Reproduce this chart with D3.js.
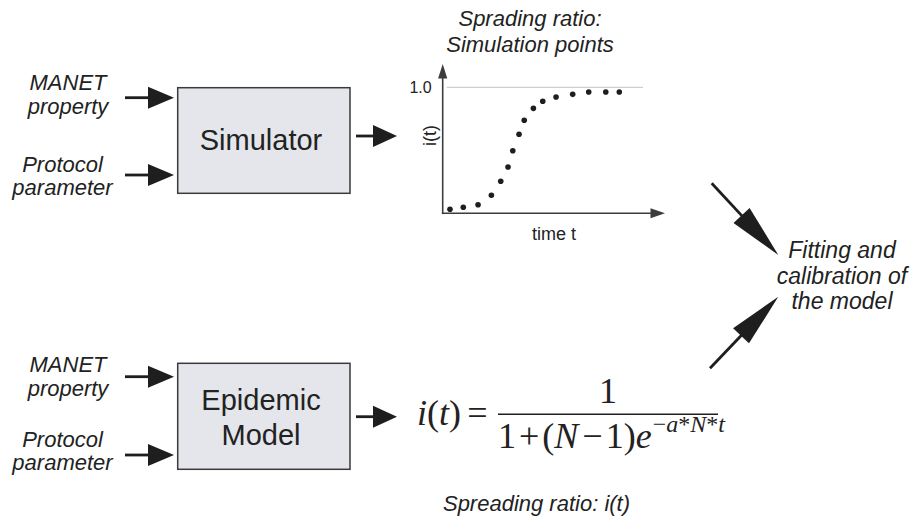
<!DOCTYPE html>
<html>
<head>
<meta charset="utf-8">
<script src="https://cdn.jsdelivr.net/npm/d3@7"></script>
<style>
  html, body { margin: 0; padding: 0; background: #fff; }
  svg { display: block; }
  text { fill: #222; }
</style>
</head>
<body>
<svg id="fig" width="917" height="523"></svg>
<script>
// Simulated spreading ratio i(t) over time (normalised time units)
const timeValues  = [0.35, 0.99, 1.70, 2.34, 2.79, 3.14, 3.37, 3.67, 3.92, 4.36, 4.81, 5.45, 6.25, 7.02, 7.84, 8.49];
const ratioValues = [0.032, 0.048, 0.068, 0.143, 0.254, 0.367, 0.497, 0.627, 0.738, 0.833, 0.889, 0.923, 0.944, 0.963, 0.963, 0.963];
const yTickValues = [1.0];

const inputLabels = [["MANET", "property"], ["Protocol", "parameter"]];
const blockLabels = [["Simulator"], ["Epidemic", "Model"]];
const plotTitle   = ["Sprading ratio:", "Simulation points"];
const fitLabel    = ["Fitting and", "calibration of", "the model"];
const modelCaption = "Spreading ratio: i(t)";

const svg = d3.select("#fig");
const ink = "#1e1e1e";
const sans = "'Liberation Sans', Arial, Helvetica, sans-serif";
const serif = "'Liberation Serif', 'Times New Roman', serif";

// Filled arrow: shaft plus triangular head ending at (x2, y2)
function arrow(g, x1, y1, x2, y2, headLen, headHalf, width, color) {
  const dx = x2 - x1, dy = y2 - y1, len = Math.hypot(dx, dy);
  const ux = dx / len, uy = dy / len, nx = -uy, ny = ux;
  const bx = x2 - ux * headLen, by = y2 - uy * headLen;
  g.append("line")
    .attr("x1", x1).attr("y1", y1).attr("x2", bx + ux * 2).attr("y2", by + uy * 2)
    .attr("stroke", color).attr("stroke-width", width);
  g.append("path")
    .attr("d", d3.line()([[x2, y2], [bx + nx * headHalf, by + ny * headHalf], [bx - nx * headHalf, by - ny * headHalf]]) + "Z")
    .attr("fill", color);
}

// ---------- blocks with their inputs ----------
const rows = [
  { box: [177.7, 87.7, 172.3, 105.6], inY: [97.7, 175], outY: 136,
    inText: [[90, 114], [171.7, 195]], blockText: [150] },
  { box: [177.7, 363.3, 172.3, 106], inY: [376.7, 455], outY: 416.7,
    inText: [[372.3, 395.7], [447, 470]], blockText: [410, 445] }
];
const inputX = [68, 62.5];

rows.forEach((r, i) => {
  const g = svg.append("g");
  r.inText.forEach((ys, k) => {
    inputLabels[k].forEach((t, j) => {
      g.append("text").attr("x", inputX[k]).attr("y", ys[j])
        .attr("text-anchor", "middle").attr("font-family", sans)
        .attr("font-style", "italic").attr("font-size", 22).text(t);
    });
  });
  r.inY.forEach(y => arrow(g, 125, y, 174, y, 26, 11, 2.8, ink));
  g.append("rect")
    .attr("x", r.box[0]).attr("y", r.box[1]).attr("width", r.box[2]).attr("height", r.box[3])
    .attr("fill", "#e4e6eb").attr("stroke", "#3a3a3a").attr("stroke-width", 1.5);
  blockLabels[i].forEach((t, j) => {
    g.append("text").attr("x", 261).attr("y", r.blockText[j])
      .attr("text-anchor", "middle").attr("font-family", sans)
      .attr("font-size", 29).text(t);
  });
  arrow(g, 356, r.outY, 397, r.outY, 24, 11, 2.8, ink);
});

// ---------- simulation plot ----------
const x = d3.scaleLinear().domain([0, 10]).range([442.7, 650.7]);
const y = d3.scaleLinear().domain([0, 1]).range([213.3, 87.3]);
const plot = svg.append("g");

// reference line at i(t) = 1.0 with its label
const yAxis = plot.append("g")
  .attr("transform", `translate(${x(0)},0)`)
  .call(d3.axisLeft(y).tickValues(yTickValues).tickFormat(d3.format(".1f")).tickSize(0).tickPadding(11));
yAxis.select(".domain").remove();
yAxis.selectAll("text").attr("font-family", sans).attr("font-size", 16).attr("fill", "#222");

plot.selectAll("line.grid").data(yTickValues).join("line")
  .attr("class", "grid")
  .attr("x1", x(0) + 4).attr("x2", 643)
  .attr("y1", d => y(d)).attr("y2", d => y(d))
  .attr("stroke", "#c4c4c4").attr("stroke-width", 1);

// axes with arrowheads
const axisColor = "#3c3c3c";
arrow(plot, x(0), y(0) + 0.8, x(0), 64, 14.5, 4.6, 1.6, axisColor);
arrow(plot, x(0) - 0.8, y(0), 665, y(0), 14.5, 5, 1.6, axisColor);

plot.append("text")
  .attr("transform", `translate(436,135.5) rotate(-90)`)
  .attr("text-anchor", "middle").attr("font-family", sans).attr("font-size", 18).text("i(t)");
plot.append("text")
  .attr("x", 554).attr("y", 240)
  .attr("text-anchor", "middle").attr("font-family", sans).attr("font-size", 18).text("time t");

plot.selectAll("circle").data(timeValues).join("circle")
  .attr("cx", d => x(d)).attr("cy", (d, i) => y(ratioValues[i]))
  .attr("r", 2.8).attr("fill", ink);

plotTitle.forEach((t, j) => {
  svg.append("text").attr("x", 530).attr("y", [26, 51.7][j])
    .attr("text-anchor", "middle").attr("font-family", sans)
    .attr("font-style", "italic").attr("font-size", 22).text(t);
});

// ---------- epidemic model formula ----------
const f = svg.append("g").attr("font-family", serif).attr("font-size", 36);
const lhs = f.append("text").attr("x", 417).attr("y", 425);
lhs.append("tspan").attr("font-style", "italic").text("i");
lhs.append("tspan").text("(");
lhs.append("tspan").attr("font-style", "italic").text("t");
lhs.append("tspan").text(")");
f.append("text").attr("x", 477.5).attr("y", 425).attr("text-anchor", "middle").text("=");
f.append("line").attr("x1", 498).attr("x2", 718).attr("y1", 414.3).attr("y2", 414.3)
  .attr("stroke", ink).attr("stroke-width", 1.6);
f.append("text").attr("x", 608).attr("y", 402.7).attr("text-anchor", "middle").text("1");
const den = f.append("text").attr("x", 498).attr("y", 448.3);
den.append("tspan").text("1");
den.append("tspan").attr("dx", 3).text("+");
den.append("tspan").attr("dx", 3).text("(");
den.append("tspan").attr("font-style", "italic").text("N");
den.append("tspan").attr("dx", 4).text("\u2212");
den.append("tspan").attr("dx", 3).text("1)");
den.append("tspan").attr("font-style", "italic").text("e");
const sup = den.append("tspan").attr("dy", -16.6).attr("dx", 1).attr("font-size", 24);
sup.append("tspan").text("\u2212");
sup.append("tspan").attr("font-style", "italic").text("a");
sup.append("tspan").text("*");
sup.append("tspan").attr("font-style", "italic").text("N");
sup.append("tspan").text("*");
sup.append("tspan").attr("font-style", "italic").text("t");

svg.append("text").attr("x", 536.5).attr("y", 511)
  .attr("text-anchor", "middle").attr("font-family", sans)
  .attr("font-style", "italic").attr("font-size", 22).text(modelCaption);

// ---------- fitting / calibration ----------
const fit = svg.append("g");
arrow(fit, 711.7, 183.3, 778.3, 255, 54, 11, 2.8, ink);
arrow(fit, 710, 368.3, 778.3, 296.7, 54, 11, 2.8, ink);
fitLabel.forEach((t, j) => {
  fit.append("text").attr("x", 842).attr("y", [258.3, 283.8, 309.3][j])
    .attr("text-anchor", "middle").attr("font-family", sans)
    .attr("font-style", "italic").attr("font-size", 23).text(t);
});
</script>
</body>
</html>
